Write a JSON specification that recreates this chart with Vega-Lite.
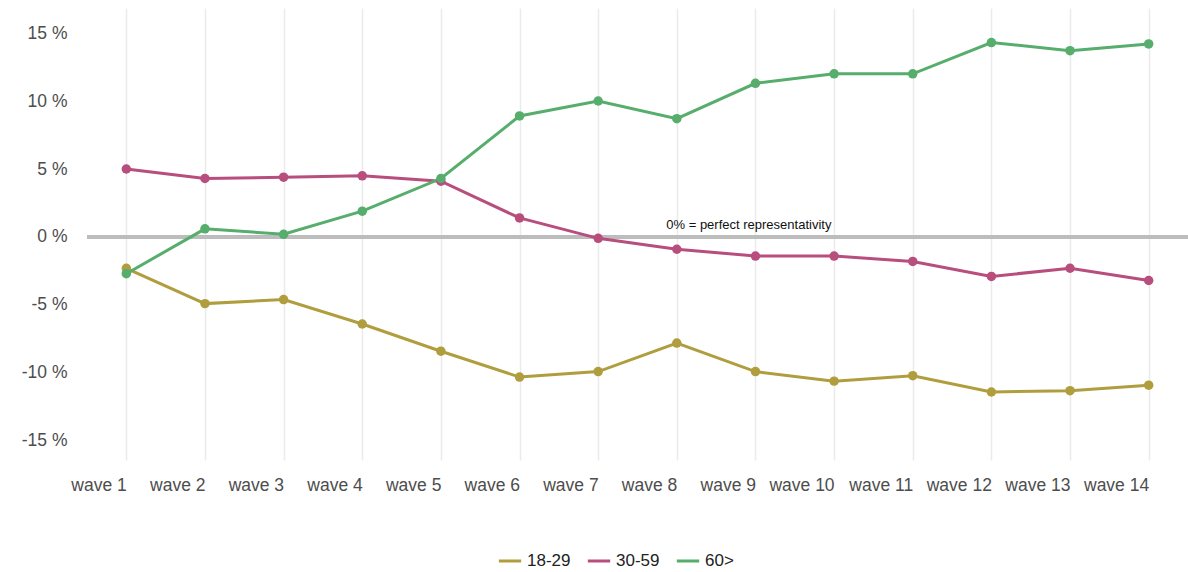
{
"$schema":"https://vega.github.io/schema/vega-lite/v6.json",
"width":1101,"height":452,
"autosize":{"type":"none"},
"padding":{"left":87,"top":8,"right":0,"bottom":112},
"background":"white",
"config":{"view":{"stroke":null},"font":"Liberation Sans","axis":{"labelFontSize":17.5,"labelColor":"#4d4d4d","gridColor":"#ebebeb","gridWidth":1.5,"domain":false,"ticks":false,"title":null}},
"data":{"values":[
{"w":"wave 1","g":"18-29","v":-2.3},{"w":"wave 2","g":"18-29","v":-4.9},{"w":"wave 3","g":"18-29","v":-4.6},{"w":"wave 4","g":"18-29","v":-6.4},{"w":"wave 5","g":"18-29","v":-8.4},{"w":"wave 6","g":"18-29","v":-10.3},{"w":"wave 7","g":"18-29","v":-9.9},{"w":"wave 8","g":"18-29","v":-7.8},{"w":"wave 9","g":"18-29","v":-9.9},{"w":"wave 10","g":"18-29","v":-10.6},{"w":"wave 11","g":"18-29","v":-10.2},{"w":"wave 12","g":"18-29","v":-11.4},{"w":"wave 13","g":"18-29","v":-11.3},{"w":"wave 14","g":"18-29","v":-10.9},
{"w":"wave 1","g":"30-59","v":5.0},{"w":"wave 2","g":"30-59","v":4.3},{"w":"wave 3","g":"30-59","v":4.4},{"w":"wave 4","g":"30-59","v":4.5},{"w":"wave 5","g":"30-59","v":4.1},{"w":"wave 6","g":"30-59","v":1.4},{"w":"wave 7","g":"30-59","v":-0.1},{"w":"wave 8","g":"30-59","v":-0.9},{"w":"wave 9","g":"30-59","v":-1.4},{"w":"wave 10","g":"30-59","v":-1.4},{"w":"wave 11","g":"30-59","v":-1.8},{"w":"wave 12","g":"30-59","v":-2.9},{"w":"wave 13","g":"30-59","v":-2.3},{"w":"wave 14","g":"30-59","v":-3.2},
{"w":"wave 1","g":"60>","v":-2.7},{"w":"wave 2","g":"60>","v":0.6},{"w":"wave 3","g":"60>","v":0.2},{"w":"wave 4","g":"60>","v":1.9},{"w":"wave 5","g":"60>","v":4.3},{"w":"wave 6","g":"60>","v":8.9},{"w":"wave 7","g":"60>","v":10.0},{"w":"wave 8","g":"60>","v":8.7},{"w":"wave 9","g":"60>","v":11.3},{"w":"wave 10","g":"60>","v":12.0},{"w":"wave 11","g":"60>","v":12.0},{"w":"wave 12","g":"60>","v":14.3},{"w":"wave 13","g":"60>","v":13.7},{"w":"wave 14","g":"60>","v":14.2}
]},
"layer":[
{"mark":{"type":"rule","color":"#bdbdbd","strokeWidth":2.5},"encoding":{"y":{"datum":0,"type":"quantitative"}}},
{"data":{"values":[{"w":"wave 8","v":0,"t":"0% = perfect representativity"}]},"mark":{"type":"text","fontSize":13,"color":"#111","dy":-12,"dx":72},"encoding":{"x":{"field":"w","type":"ordinal"},"y":{"field":"v","type":"quantitative"},"text":{"field":"t"}}},
{"mark":{"type":"line","strokeWidth":3,"point":{"size":90,"filled":true,"opacity":1}},
"encoding":{
"x":{"field":"w","type":"ordinal","sort":null,"scale":{"type":"point","padding":0.5,"domain":["wave 1","wave 2","wave 3","wave 4","wave 5","wave 6","wave 7","wave 8","wave 9","wave 10","wave 11","wave 12","wave 13","wave 14"]},"axis":{"labelAngle":0,"labelPadding":25,"grid":true}},
"y":{"field":"v","type":"quantitative","scale":{"domain":[-16.4,16.84],"nice":false,"zero":false},"axis":{"values":[-15,-10,-5,0,5,10,15],"labelExpr":"datum.value + ' %'","labelPadding":20}},
"color":{"field":"g","type":"nominal","scale":{"range":["#B09E3E","#B84E7D","#56AD6C"]},"legend":{"orient":"none","legendX":410,"legendY":540,"direction":"horizontal","title":null,"labelFontSize":17,"labelColor":"#222","symbolType":"stroke","symbolStrokeWidth":3,"symbolSize":500,"columnPadding":10}}}}
]
}
